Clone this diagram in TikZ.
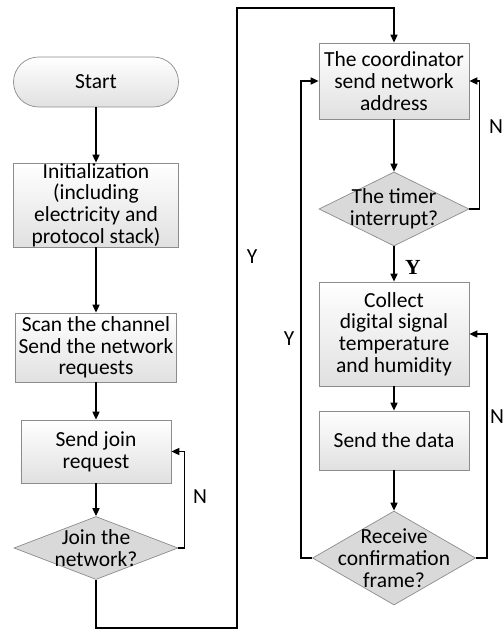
\documentclass[tikz,border=0pt]{standalone}
\usepackage{fontspec}
\setmainfont{Carlito}
\newfontfamily\yesfont{Liberation Serif}
\usepackage{xcolor}
\usetikzlibrary{arrows.meta,shapes.geometric}
\begin{document}
\begin{tikzpicture}[x=1bp,y=-1bp,>={Triangle[length=8bp,width=7bp]},
		every node/.style={font=\fontsize{21.5bp}{21.7bp}\selectfont},
		procbox/.style={draw=black!45,line width=0.7bp,top color=white,bottom color=black!12,align=center,inner sep=0pt},
		termbox/.style={procbox,rounded corners=25bp,minimum width=165bp,minimum height=50bp},
		decision/.style={draw=black!45,line width=0.7bp,fill=black!15,shape=diamond,inner sep=0pt},
		flow/.style={line width=1.6bp}]
			\useasboundingbox (0,0) rectangle (504,631);
			% left column
			\node[termbox] (start) at (96,82) {Start};
			\node[procbox,minimum width=165bp,minimum height=84bp] (init) at (96,205) {Initialization\\(including\\electricity and\\protocol stack)};
			\node[procbox,minimum width=161bp,minimum height=69bp] (scan) at (96,347.5) {Scan the channel\\Send the network\\requests};
			\node[procbox,minimum width=150bp,minimum height=63bp] (joinreq) at (96,451.5) {Send join\\request};
			\node[decision,minimum width=164bp,minimum height=63bp,label={[align=center]center:Join the\\network?}] (joinnet) at (96,548) {};
			% right column
			\node[procbox,minimum width=150bp,minimum height=76bp] (coord) at (394,81) {The coordinator\\send network\\address};
			\node[decision,minimum width=150bp,minimum height=74bp,label={[align=center]center:The timer\\interrupt?}] (timer) at (394,209) {};
			\node[procbox,minimum width=150bp,minimum height=104bp] (collect) at (394,334) {Collect\\digital signal\\temperature\\and humidity};
			\node[procbox,minimum width=150bp,minimum height=59bp] (senddata) at (394,440.5) {Send the data};
			\node[decision,minimum width=163bp,minimum height=94bp,label={[align=center]center:Receive\\confirmation\\frame?}] (confirm) at (394,558) {};
			\coordinate (bottomturn) at (237,628);
			\coordinate (topturn) at (237,8);
			% arrows
			\draw[flow,->] (start) -- (init);
			\draw[flow,->] (init) -- (scan);
			\draw[flow,->] (scan) -- (joinreq);
			\draw[flow,->] (joinreq) -- (joinnet);
			\draw[flow,->] (joinnet.east) -- ++(6,0) |- (joinreq.east);
			\draw[flow,->] (joinnet.south) |- (bottomturn) -- (topturn) -| (coord.north);
			\draw[flow,->] (coord) -- (timer);
			\draw[flow,->] (timer.east) -- ++(10,0) |- (coord.east);
			\draw[flow,->] (timer) -- (collect);
			\draw[flow,->] (collect) -- (senddata);
			\draw[flow,->] (senddata) -- (confirm);
			\draw[flow,->] (confirm.west) -- ++(-11,0) |- (coord.west);
			\draw[flow,->] (confirm.east) -- ++(11,0) |- (collect.east);
			% labels
			\node (ybig) at (252,257) {Y};
			\node (njoin) at (200,497) {N};
			\node (ytimer) at (413,267) {\yesfont\bfseries Y};
			\node (ntimer) at (496,127) {N};
			\node (yconf) at (289,339) {Y};
			\node (nconf) at (497,417) {N};
\end{tikzpicture}
\end{document}
